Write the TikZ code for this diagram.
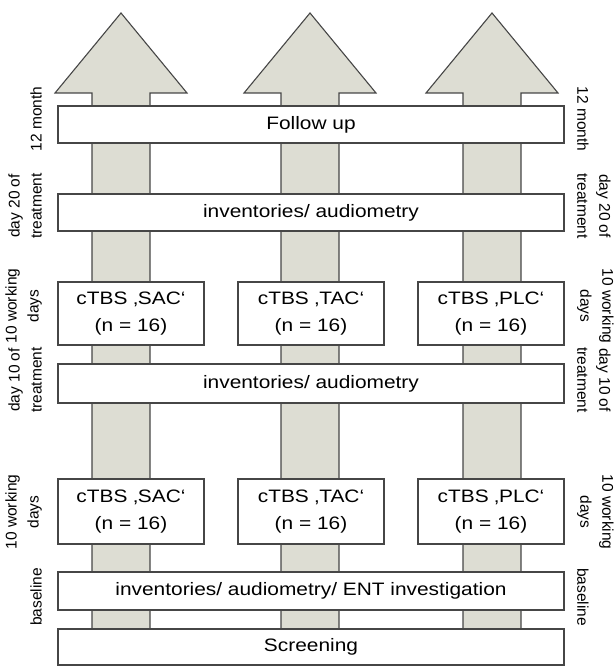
\documentclass[tikz,border=0pt]{standalone}
\usepackage{fontspec}
\usepackage{graphicx}
\setmainfont{Liberation Sans}
\definecolor{arrowfill}{RGB}{221,221,211}
\definecolor{edgegray}{RGB}{70,70,70}
\newcommand\wtxt[1]{\scalebox{1.16}[1]{#1}}
\begin{document}
\begin{tikzpicture}[x=1pt,y=-1pt,
  bigarrow/.style={fill=arrowfill,draw=edgegray,line width=1.1pt,line join=miter},
  box/.style={draw=edgegray,fill=white,line width=1.2pt,inner sep=0pt,align=center,
    font=\fontsize{18}{27.5}\selectfont},
  widebox/.style={box,minimum width=506pt},
  armbox/.style={box,minimum width=146pt,minimum height=64pt},
  sidel/.style={rotate=90,anchor=south,align=center,inner sep=0pt,
    font=\fontsize{15.5}{22}\selectfont},
  sider/.style={rotate=-90,anchor=south,align=center,inner sep=0pt,
    font=\fontsize{15.5}{22}\selectfont}]
\useasboundingbox (0,0) rectangle (614,666);
% arrows
\foreach \c in {121,310,492}{
  \draw[bigarrow] (\c-29,640) -- (\c-29,93) -- (\c-66,93) -- (\c,13) -- (\c+66,93)
    -- (\c+29,93) -- (\c+29,640) -- cycle;
}
% wide boxes
\node[widebox,minimum height=37pt] (fu) at (311,124.5) {\wtxt{Follow up}};
\node[widebox,minimum height=37pt] (inv1) at (311,212.5) {\wtxt{inventories/ audiometry}};
\node[widebox,minimum height=39pt] (inv2) at (311,383.5) {\wtxt{inventories/ audiometry}};
\node[widebox,minimum height=38pt] (base) at (311,591) {\wtxt{inventories/ audiometry/ ENT investigation}};
\node[widebox,minimum height=36pt] (scr) at (311,647) {\wtxt{Screening}};
% arm boxes
\node[armbox,minimum height=63pt] (a1) at (131,313.5) {\wtxt{cTBS ‚SAC‘}\\\wtxt{(n = 16)}};
\node[armbox,minimum height=63pt] (b1) at (311,313.5) {\wtxt{cTBS ‚TAC‘}\\\wtxt{(n = 16)}};
\node[armbox,minimum height=63pt] (c1) at (491,313.5) {\wtxt{cTBS ‚PLC‘}\\\wtxt{(n = 16)}};
\node[armbox,minimum height=65pt] (a2) at (131,511.5) {\wtxt{cTBS ‚SAC‘}\\\wtxt{(n = 16)}};
\node[armbox,minimum height=65pt] (b2) at (311,511.5) {\wtxt{cTBS ‚TAC‘}\\\wtxt{(n = 16)}};
\node[armbox,minimum height=65pt] (c2) at (491,511.5) {\wtxt{cTBS ‚PLC‘}\\\wtxt{(n = 16)}};
% left labels
\node[sidel] (l1) at (42,119) {12 month};
\node[sidel] (l2) at (42,206) {day 20 of\\treatment};
\node[sidel] (l3) at (42,306) {10 working\\days};
\node[sidel] (l4) at (42,380) {day 10 of\\treatment};
\node[sidel] (l5) at (42,512) {10 working\\days};
\node[sidel] (l6) at (42,597) {baseline};
% right labels
\node[sider] (r1) at (577,119) {12 month};
\node[sider] (r2) at (577,206) {day 20 of\\treatment};
\node[sider] (r3) at (577,306) {10 working\\days};
\node[sider] (r4) at (577,380) {day 10 of\\treatment};
\node[sider] (r5) at (577,512) {10 working\\days};
\node[sider] (r6) at (577,597) {baseline};
\end{tikzpicture}
\end{document}
